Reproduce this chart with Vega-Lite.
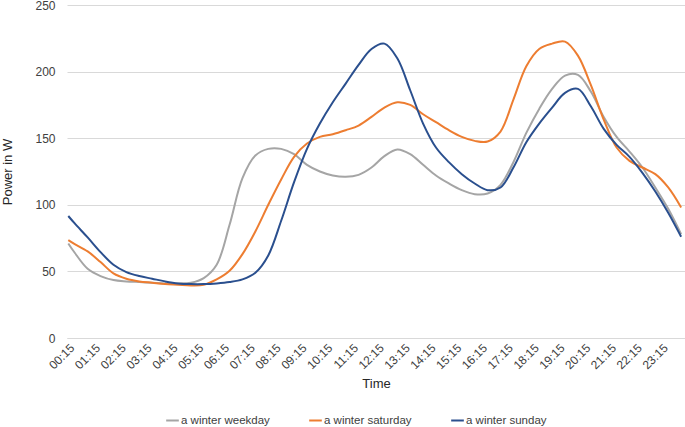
{
  "$schema": "https://vega.github.io/schema/vega-lite/v6.json",
  "width": 618,
  "height": 333,
  "autosize": {"type": "none"},
  "padding": {"left": 67, "top": 5, "right": 0, "bottom": 89},
  "background": "white",
  "config": {
    "view": {"stroke": null},
    "font": "Liberation Sans",
    "axis": {"labelFont": "Liberation Sans", "titleFont": "Liberation Sans", "labelColor": "#404040", "titleColor": "#262626", "labelFontSize": 12, "titleFontSize": 13, "titleFontWeight": "normal"},
    "legend": {"labelFont": "Liberation Sans", "labelFontSize": 11.5, "labelColor": "#404040"}
  },
  "data": {
    "values": [
      {"t": 0.25, "series": "a winter weekday", "power": 71},
      {"t": 0.5, "series": "a winter weekday", "power": 64},
      {"t": 1, "series": "a winter weekday", "power": 52},
      {"t": 1.5, "series": "a winter weekday", "power": 46.5},
      {"t": 2, "series": "a winter weekday", "power": 43.5},
      {"t": 2.5, "series": "a winter weekday", "power": 42.5},
      {"t": 3, "series": "a winter weekday", "power": 42},
      {"t": 3.5, "series": "a winter weekday", "power": 41.5},
      {"t": 4, "series": "a winter weekday", "power": 41},
      {"t": 4.5, "series": "a winter weekday", "power": 41},
      {"t": 5, "series": "a winter weekday", "power": 41.5},
      {"t": 5.5, "series": "a winter weekday", "power": 45},
      {"t": 6, "series": "a winter weekday", "power": 55},
      {"t": 6.5, "series": "a winter weekday", "power": 85},
      {"t": 7, "series": "a winter weekday", "power": 120},
      {"t": 7.5, "series": "a winter weekday", "power": 137},
      {"t": 8, "series": "a winter weekday", "power": 142},
      {"t": 8.5, "series": "a winter weekday", "power": 142},
      {"t": 9, "series": "a winter weekday", "power": 138},
      {"t": 9.5, "series": "a winter weekday", "power": 130},
      {"t": 10, "series": "a winter weekday", "power": 125},
      {"t": 10.5, "series": "a winter weekday", "power": 122},
      {"t": 11, "series": "a winter weekday", "power": 121},
      {"t": 11.5, "series": "a winter weekday", "power": 122.5},
      {"t": 12, "series": "a winter weekday", "power": 128},
      {"t": 12.5, "series": "a winter weekday", "power": 136.5},
      {"t": 13, "series": "a winter weekday", "power": 141.5},
      {"t": 13.5, "series": "a winter weekday", "power": 138},
      {"t": 14, "series": "a winter weekday", "power": 130},
      {"t": 14.5, "series": "a winter weekday", "power": 122},
      {"t": 15, "series": "a winter weekday", "power": 116},
      {"t": 15.5, "series": "a winter weekday", "power": 111},
      {"t": 16, "series": "a winter weekday", "power": 108},
      {"t": 16.5, "series": "a winter weekday", "power": 108.5},
      {"t": 17, "series": "a winter weekday", "power": 115},
      {"t": 17.5, "series": "a winter weekday", "power": 132},
      {"t": 18, "series": "a winter weekday", "power": 154},
      {"t": 18.5, "series": "a winter weekday", "power": 172},
      {"t": 19, "series": "a winter weekday", "power": 187},
      {"t": 19.5, "series": "a winter weekday", "power": 197},
      {"t": 20, "series": "a winter weekday", "power": 197.5},
      {"t": 20.5, "series": "a winter weekday", "power": 185},
      {"t": 21, "series": "a winter weekday", "power": 166},
      {"t": 21.5, "series": "a winter weekday", "power": 151},
      {"t": 22, "series": "a winter weekday", "power": 140},
      {"t": 22.5, "series": "a winter weekday", "power": 128},
      {"t": 23, "series": "a winter weekday", "power": 113},
      {"t": 23.5, "series": "a winter weekday", "power": 97},
      {"t": 24, "series": "a winter weekday", "power": 78},
      {"t": 0.25, "series": "a winter saturday", "power": 73.5},
      {"t": 0.5, "series": "a winter saturday", "power": 70.5},
      {"t": 1, "series": "a winter saturday", "power": 65},
      {"t": 1.5, "series": "a winter saturday", "power": 57},
      {"t": 2, "series": "a winter saturday", "power": 48.5},
      {"t": 2.5, "series": "a winter saturday", "power": 44.5},
      {"t": 3, "series": "a winter saturday", "power": 42.5},
      {"t": 3.5, "series": "a winter saturday", "power": 41.5},
      {"t": 4, "series": "a winter saturday", "power": 40.5},
      {"t": 4.5, "series": "a winter saturday", "power": 40},
      {"t": 5, "series": "a winter saturday", "power": 39.5},
      {"t": 5.5, "series": "a winter saturday", "power": 40},
      {"t": 6, "series": "a winter saturday", "power": 44},
      {"t": 6.5, "series": "a winter saturday", "power": 50.5},
      {"t": 7, "series": "a winter saturday", "power": 63},
      {"t": 7.5, "series": "a winter saturday", "power": 80},
      {"t": 8, "series": "a winter saturday", "power": 100},
      {"t": 8.5, "series": "a winter saturday", "power": 119},
      {"t": 9, "series": "a winter saturday", "power": 136},
      {"t": 9.5, "series": "a winter saturday", "power": 146},
      {"t": 10, "series": "a winter saturday", "power": 151},
      {"t": 10.5, "series": "a winter saturday", "power": 153},
      {"t": 11, "series": "a winter saturday", "power": 156},
      {"t": 11.5, "series": "a winter saturday", "power": 159.5},
      {"t": 12, "series": "a winter saturday", "power": 166},
      {"t": 12.5, "series": "a winter saturday", "power": 173},
      {"t": 13, "series": "a winter saturday", "power": 177},
      {"t": 13.5, "series": "a winter saturday", "power": 175},
      {"t": 14, "series": "a winter saturday", "power": 168},
      {"t": 14.5, "series": "a winter saturday", "power": 162},
      {"t": 15, "series": "a winter saturday", "power": 156},
      {"t": 15.5, "series": "a winter saturday", "power": 151},
      {"t": 16, "series": "a winter saturday", "power": 148},
      {"t": 16.5, "series": "a winter saturday", "power": 147.5},
      {"t": 17, "series": "a winter saturday", "power": 155},
      {"t": 17.5, "series": "a winter saturday", "power": 179},
      {"t": 18, "series": "a winter saturday", "power": 204},
      {"t": 18.5, "series": "a winter saturday", "power": 217},
      {"t": 19, "series": "a winter saturday", "power": 221},
      {"t": 19.5, "series": "a winter saturday", "power": 222.5},
      {"t": 20, "series": "a winter saturday", "power": 212},
      {"t": 20.5, "series": "a winter saturday", "power": 190},
      {"t": 21, "series": "a winter saturday", "power": 164},
      {"t": 21.5, "series": "a winter saturday", "power": 143},
      {"t": 22, "series": "a winter saturday", "power": 133},
      {"t": 22.5, "series": "a winter saturday", "power": 128},
      {"t": 23, "series": "a winter saturday", "power": 123},
      {"t": 23.5, "series": "a winter saturday", "power": 113},
      {"t": 24, "series": "a winter saturday", "power": 98},
      {"t": 0.25, "series": "a winter sunday", "power": 91.6},
      {"t": 0.5, "series": "a winter sunday", "power": 86},
      {"t": 1, "series": "a winter sunday", "power": 75.5},
      {"t": 1.5, "series": "a winter sunday", "power": 64.5},
      {"t": 2, "series": "a winter sunday", "power": 55},
      {"t": 2.5, "series": "a winter sunday", "power": 49.5},
      {"t": 3, "series": "a winter sunday", "power": 46.5},
      {"t": 3.5, "series": "a winter sunday", "power": 44.5},
      {"t": 4, "series": "a winter sunday", "power": 42.5},
      {"t": 4.5, "series": "a winter sunday", "power": 41},
      {"t": 5, "series": "a winter sunday", "power": 40.5},
      {"t": 5.5, "series": "a winter sunday", "power": 40.5},
      {"t": 6, "series": "a winter sunday", "power": 41},
      {"t": 6.5, "series": "a winter sunday", "power": 42},
      {"t": 7, "series": "a winter sunday", "power": 44},
      {"t": 7.5, "series": "a winter sunday", "power": 49},
      {"t": 8, "series": "a winter sunday", "power": 62},
      {"t": 8.5, "series": "a winter sunday", "power": 88},
      {"t": 9, "series": "a winter sunday", "power": 117},
      {"t": 9.5, "series": "a winter sunday", "power": 142},
      {"t": 10, "series": "a winter sunday", "power": 161},
      {"t": 10.5, "series": "a winter sunday", "power": 177},
      {"t": 11, "series": "a winter sunday", "power": 191},
      {"t": 11.5, "series": "a winter sunday", "power": 205},
      {"t": 12, "series": "a winter sunday", "power": 217},
      {"t": 12.5, "series": "a winter sunday", "power": 221},
      {"t": 13, "series": "a winter sunday", "power": 210},
      {"t": 13.5, "series": "a winter sunday", "power": 186},
      {"t": 14, "series": "a winter sunday", "power": 161},
      {"t": 14.5, "series": "a winter sunday", "power": 143},
      {"t": 15, "series": "a winter sunday", "power": 132},
      {"t": 15.5, "series": "a winter sunday", "power": 123},
      {"t": 16, "series": "a winter sunday", "power": 116},
      {"t": 16.5, "series": "a winter sunday", "power": 111},
      {"t": 17, "series": "a winter sunday", "power": 113},
      {"t": 17.5, "series": "a winter sunday", "power": 128},
      {"t": 18, "series": "a winter sunday", "power": 147},
      {"t": 18.5, "series": "a winter sunday", "power": 161},
      {"t": 19, "series": "a winter sunday", "power": 173},
      {"t": 19.5, "series": "a winter sunday", "power": 184},
      {"t": 20, "series": "a winter sunday", "power": 187},
      {"t": 20.5, "series": "a winter sunday", "power": 174},
      {"t": 21, "series": "a winter sunday", "power": 157},
      {"t": 21.5, "series": "a winter sunday", "power": 145},
      {"t": 22, "series": "a winter sunday", "power": 136},
      {"t": 22.5, "series": "a winter sunday", "power": 124},
      {"t": 23, "series": "a winter sunday", "power": 110},
      {"t": 23.5, "series": "a winter sunday", "power": 94},
      {"t": 24, "series": "a winter sunday", "power": 76}
    ]
  },
  "mark": {"type": "line", "interpolate": "catmull-rom", "strokeWidth": 2},
  "encoding": {
    "x": {
      "field": "t",
      "type": "quantitative",
      "title": "Time",
      "scale": {"domain": [0.2, 24.15], "nice": false, "zero": false},
      "axis": {
        "values": [0.25, 1.25, 2.25, 3.25, 4.25, 5.25, 6.25, 7.25, 8.25, 9.25, 10.25, 11.25, 12.25, 13.25, 14.25, 15.25, 16.25, 17.25, 18.25, 19.25, 20.25, 21.25, 22.25, 23.25],
        "labelExpr": "(floor(datum.value) < 10 ? '0' : '') + floor(datum.value) + ':15'",
        "labelAngle": -45,
        "labelPadding": 4,
        "ticks": false,
        "grid": false,
        "domainColor": "#d9d9d9",
        "domainWidth": 1,
        "titlePadding": 6,
        "labelFlush": false,
        "labelOverlap": false
      }
    },
    "y": {
      "field": "power",
      "type": "quantitative",
      "title": "Power in W",
      "scale": {"domain": [0, 250], "nice": false},
      "axis": {
        "values": [0, 50, 100, 150, 200, 250],
        "ticks": false,
        "domain": false,
        "gridColor": "#d9d9d9",
        "labelPadding": 12,
        "titlePadding": 20
      }
    },
    "color": {
      "field": "series",
      "type": "nominal",
      "scale": {"domain": ["a winter weekday", "a winter saturday", "a winter sunday"], "range": ["#a5a5a5", "#ed7d31", "#2a4f8e"]},
      "legend": {
        "title": null,
        "orient": "none",
        "direction": "horizontal",
        "legendX": 98,
        "legendY": 408,
        "symbolType": "stroke",
        "symbolStrokeWidth": 2,
        "symbolSize": 160,
        "labelOffset": 1,
        "columnPadding": 35
      }
    }
  }
}
